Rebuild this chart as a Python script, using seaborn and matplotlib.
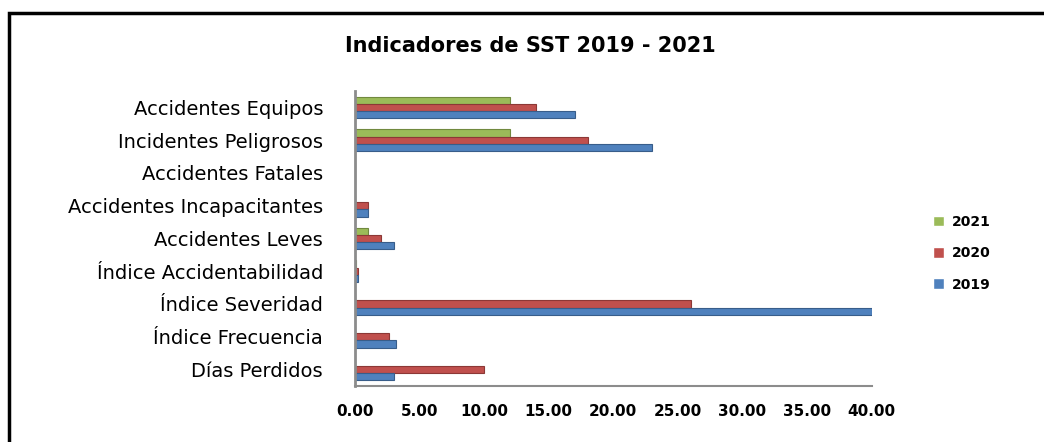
import pandas as pd
import matplotlib
matplotlib.use("Agg")
import matplotlib.pyplot as plt
from matplotlib.patches import Rectangle
from matplotlib.ticker import FormatStrFormatter
import seaborn as sns

# ==========================================
# Data
# ==========================================

categories = [
    "Accidentes Equipos",
    "Incidentes Peligrosos",
    "Accidentes Fatales",
    "Accidentes Incapacitantes",
    "Accidentes Leves",
    "Índice Accidentabilidad",
    "Índice Severidad",
    "Índice Frecuencia",
    "Días Perdidos",
]

values_2019 = [17, 23, 0, 1, 3, 0.2, 40, 3.2, 3]
values_2020 = [14, 18, 0, 1, 2, 0.2, 26, 2.6, 10]
values_2021 = [12, 12, 0, 0, 1, 0.1, 0, 0, 0]

years = ["2021", "2020", "2019"]
colors = {"2021": "#9BBB59", "2020": "#C0504D", "2019": "#4F81BD"}
edges = {"2021": "#71893F", "2020": "#8C3836", "2019": "#385D8A"}

data = pd.DataFrame({
    "Indicador": categories * 3,
    "Valor": values_2021 + values_2020 + values_2019,
    "Año": ["2021"] * 9 + ["2020"] * 9 + ["2019"] * 9,
})

# ==========================================
# Plot
# ==========================================

sns.set_style("white")
plt.rcParams["font.family"] = ["DejaVu Sans"]
plt.rcParams["text.color"] = "black"
plt.rcParams["xtick.color"] = "black"
plt.rcParams["ytick.color"] = "black"

fig = plt.figure(figsize=(10.44, 4.42), dpi=100)
ax = fig.add_axes([0.340, 0.127, 0.495, 0.667])

sns.barplot(
    data=data,
    x="Valor",
    y="Indicador",
    hue="Año",
    hue_order=years,
    order=categories,
    palette=colors,
    saturation=1,
    orient="h",
    width=0.66,
    ax=ax,
)

for bars, yr in zip(ax.containers, years):
    for b in bars:
        b.set_edgecolor(edges[yr])
        b.set_linewidth(0.8)

ax.set_xlim(0, 40)
ax.set_xticks(range(0, 41, 5))
ax.xaxis.set_major_formatter(FormatStrFormatter("%.2f"))
ax.set_xlabel("")
ax.set_ylabel("")

for side in ["top", "right"]:
    ax.spines[side].set_visible(False)
ax.spines["left"].set_color("#8C8C8C")
ax.spines["left"].set_linewidth(2)
ax.spines["bottom"].set_color("#8C8C8C")
ax.spines["bottom"].set_linewidth(1.5)

ax.tick_params(axis="x", direction="out", length=5, color="#8C8C8C",
               labelsize=11, pad=8)
ax.tick_params(axis="y", length=0, labelsize=14, pad=23)
for lbl in ax.get_xticklabels():
    lbl.set_fontweight("bold")

leg = ax.legend(
    loc="center left",
    bbox_to_anchor=(1.095, 0.45),
    frameon=False,
    fontsize=10,
    handlelength=0.8,
    handleheight=0.8,
    handletextpad=0.5,
    labelspacing=1.25,
)
for t in leg.get_texts():
    t.set_fontweight("bold")

fig.text(0.508, 0.895, "Indicadores de SST 2019 - 2021",
         ha="center", va="center", fontsize=15, fontweight="bold")

# outer frame
fig.patches.append(Rectangle((0.009, -0.05), 1.2, 1 - 0.029 + 0.05,
                             transform=fig.transFigure, fill=False,
                             edgecolor="black", linewidth=2.5))

plt.savefig("out.png", dpi=100)
